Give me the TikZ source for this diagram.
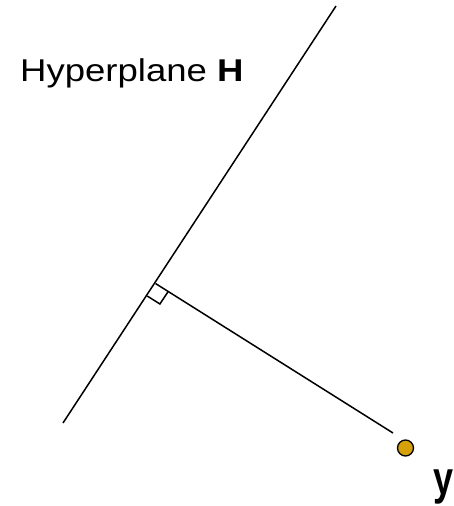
\documentclass[tikz,border=0pt]{standalone}
\usepackage{fontspec}
\setmainfont{Liberation Sans}
\newfontfamily\widesans[FakeStretch=1.16]{Liberation Sans}
\usetikzlibrary{calc}
\definecolor{dotgold}{RGB}{213,160,10}
\begin{document}
\begin{tikzpicture}[x=1pt,y=1pt,
  hline/.style={draw=black,line width=1.5pt},
  ptdot/.style={circle,draw=black,line width=1.3pt,fill=dotgold,minimum size=16pt,inner sep=0pt},
  lbl/.style={inner sep=0pt,anchor=base west}]
\useasboundingbox (0,0) rectangle (454,506);
\coordinate (A) at (63,83);
\coordinate (B) at (336,500);
\coordinate (F) at (155.5,222.5);
\coordinate (E) at (393,73);
\node[ptdot] (P) at (405.5,58) {};
\draw[hline] (A) -- (B);
\draw[hline] (F) -- (E);
\coordinate (s1) at ($(F)!15pt!(A)$);
\coordinate (s2) at ($(F)!15pt!(E)$);
\coordinate (s3) at ($(s1)+(s2)-(F)$);
\draw[hline] (s1) -- (s3) -- (s2);
\node[lbl,font=\widesans\fontsize{31.5}{36}\selectfont] (H) at (20,424) {Hyperplane \textbf{H}};
\node[lbl,font=\fontsize{36}{42}\selectfont\bfseries] (y) at (433,11) {\scalebox{1}[1.3]{y}};
\end{tikzpicture}
\end{document}
